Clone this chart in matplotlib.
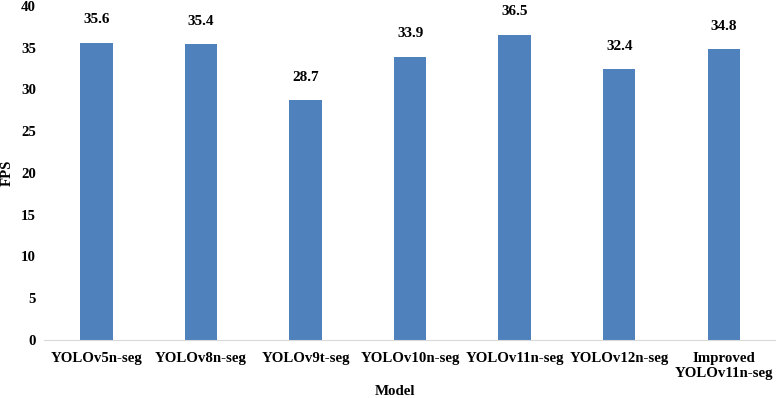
import matplotlib.pyplot as plt

models = ["YOLOv5n-seg", "YOLOv8n-seg", "YOLOv9t-seg", "YOLOv10n-seg",
          "YOLOv11n-seg", "YOLOv12n-seg", "Improved\nYOLOv11n-seg"]
fps = [35.6, 35.4, 28.7, 33.9, 36.5, 32.4, 34.8]

plt.rcParams["font.family"] = ["Liberation Serif", "DejaVu Serif"]
plt.rcParams["font.weight"] = "bold"

fig = plt.figure(figsize=(7.76, 3.98), dpi=100)
ax = fig.add_axes([0.057, 0.146, 0.943, 0.839])

x = range(len(models))
bars = ax.bar(x, fps, width=0.31, color="#4F81BD")
for b, v in zip(bars, fps):
    ax.text(b.get_x() + b.get_width() / 2, v + 2.0, f"{v:.1f}",
            ha="center", va="bottom", fontsize=11, fontweight="bold")

ax.set_xlim(-0.5, len(models) - 0.5)
ax.set_ylim(0, 40)
ax.set_yticks(range(0, 41, 5))
ax.set_xticks(list(x))
ax.set_xticklabels(models, fontsize=10.7, fontweight="bold")
ax.tick_params(axis="both", length=0, labelsize=10.7)
ax.tick_params(axis="x", pad=9)
ax.tick_params(axis="y", pad=6)
for lbl in ax.get_yticklabels():
    lbl.set_fontweight("bold")

for s in ["top", "right", "left"]:
    ax.spines[s].set_visible(False)
ax.spines["bottom"].set_color("#D9D9D9")

ax.set_xlabel("Model", fontsize=10.7, fontweight="bold")
ax.set_ylabel("FPS", fontsize=10.7, fontweight="bold")
ax.xaxis.set_label_coords(0.48, -0.155)
ax.yaxis.set_label_coords(-0.05, 0.5)
ax.xaxis.label.set_va("center")
ax.yaxis.label.set_va("center")

fig.savefig("out.png", dpi=100)
